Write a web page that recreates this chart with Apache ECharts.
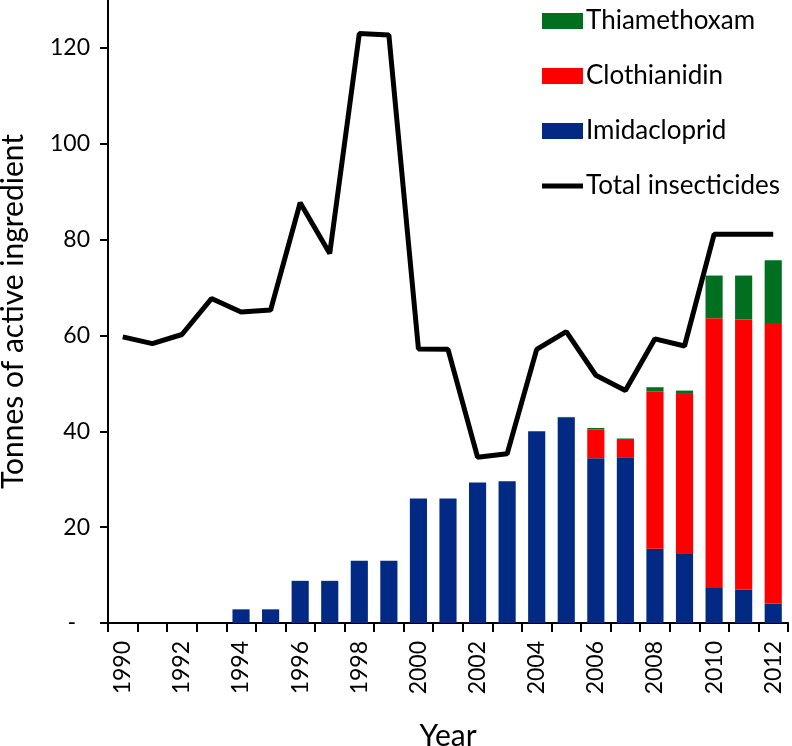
<!DOCTYPE html>
<html>
<head>
<meta charset="utf-8">
<script src="https://cdn.jsdelivr.net/npm/echarts@6/dist/echarts.min.js"></script>
<style>
html,body{margin:0;padding:0;background:#fff;}
#chart{width:792px;height:746px;}
</style>
</head>
<body>
<div id="chart"></div>
<script>
const years = ['1990','1991','1992','1993','1994','1995','1996','1997','1998','1999','2000','2001','2002','2003','2004','2005','2006','2007','2008','2009','2010','2011','2012'];
const imidacloprid = [0,0,0,0,2.85,2.85,8.8,8.8,13.0,13.0,26.0,26.0,29.3,29.6,40.0,42.8,34.4,34.6,15.5,14.4,7.3,7.0,4.0];
const clothianidin = [0,0,0,0,0,0,0,0,0,0,0,0,0,0,0,0,6.0,3.6,32.8,33.4,56.3,56.3,58.6];
const thiamethoxam = [0,0,0,0,0,0,0,0,0,0,0,0,0,0,0,0.2,0.3,0.3,0.9,0.7,8.9,9.2,13.1];
const totalInsecticides = [59.7,58.3,60.2,67.7,64.9,65.3,87.7,77.1,123.0,122.7,57.2,57.1,34.6,35.3,57.1,60.8,51.7,48.5,59.3,57.8,81.1,81.1,81.1];
const yTicks = [0,20,40,60,80,100,120];
const xLabelYears = ['1990','1992','1994','1996','1998','2000','2002','2004','2006','2008','2010','2012'];

const FONT = 'Lato';
const chart = echarts.init(document.getElementById('chart'), null, {renderer:'canvas'});
chart.setOption({
  animation:false,
  backgroundColor:'#ffffff',
  textStyle:{fontFamily:FONT,color:'#000'},
  grid:{left:108,right:4,top:0,bottom:123,containLabel:false,outerBoundsMode:'none'},
  legend:{
    orient:'vertical',
    left:542,
    top:8,
    padding:0,
    itemWidth:41,
    itemHeight:16,
    itemGap:29,
    textStyle:{fontFamily:FONT,fontSize:26,color:'#000',lineHeight:24,padding:[0,0,0,-2]},
    data:[
      {name:'Thiamethoxam',icon:'rect'},
      {name:'Clothianidin',icon:'rect'},
      {name:'Imidacloprid',icon:'rect'},
      {name:'Total insecticides',icon:'path://M0,0 L41,0 L41,5 L0,5 Z'}
    ]
  },
  xAxis:{
    type:'category',
    data:years,
    boundaryGap:true,
    name:'Year',
    nameLocation:'middle',
    nameGap:98,
    nameTextStyle:{fontFamily:FONT,fontSize:30,color:'#000'},
    axisLine:{lineStyle:{color:'#000',width:2}},
    axisTick:{show:true,alignWithLabel:false,interval:0,length:9,lineStyle:{color:'#000',width:2}},
    axisLabel:{
      interval:0,
      rotate:90,
      margin:18,
      fontFamily:FONT,fontSize:23,color:'#000',
      formatter:function(v){return xLabelYears.indexOf(v)>=0?v:'';}
    }
  },
  yAxis:{
    type:'value',
    min:0,max:130,interval:20,
    name:'Tonnes of active ingredient',
    nameLocation:'middle',
    nameGap:80,
    nameRotate:90,
    nameTextStyle:{fontFamily:FONT,fontSize:30,color:'#000'},
    splitLine:{show:false},
    axisLine:{show:true,lineStyle:{color:'#000',width:2}},
    axisTick:{show:true,length:8,lineStyle:{color:'#000',width:2},customValues:yTicks},
    axisLabel:{
      margin:18,fontFamily:FONT,fontSize:23,color:'#000',
      customValues:yTicks,
      formatter:function(v){return v===0?'{d|-}':String(v);},
      rich:{d:{fontFamily:FONT,fontSize:23,color:'#000',padding:[0,14,0,0]}}
    }
  },
  series:[
    {name:'Imidacloprid',type:'bar',stack:'neo',data:imidacloprid,barWidth:'58%',itemStyle:{color:'#022a84'}},
    {name:'Clothianidin',type:'bar',stack:'neo',data:clothianidin,barWidth:'58%',itemStyle:{color:'#ff0000'}},
    {name:'Thiamethoxam',type:'bar',stack:'neo',data:thiamethoxam,barWidth:'58%',itemStyle:{color:'#007020'}},
    {name:'Total insecticides',type:'line',data:totalInsecticides,symbol:'none',showSymbol:false,
     lineStyle:{color:'#000',width:5},itemStyle:{color:'#000'},z:5}
  ]
});
</script>
</body>
</html>
